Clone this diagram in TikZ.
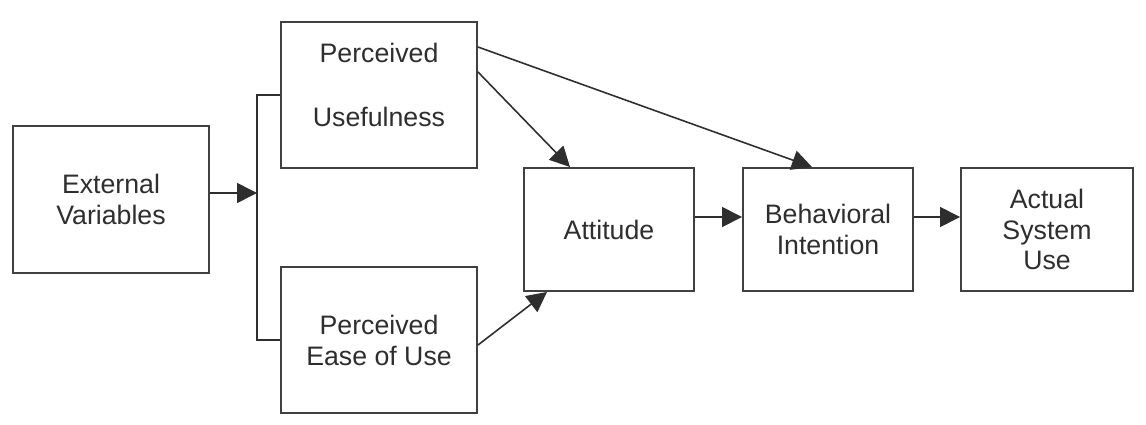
\documentclass[tikz,border=0pt]{standalone}
\usepackage{fontspec}
\setmainfont{Liberation Sans}
\usepackage{xcolor}
\definecolor{boxline}{HTML}{404040}
\definecolor{ink}{HTML}{2E2E2E}
\usepackage{tikz}
\usetikzlibrary{positioning,arrows.meta,calc}

\begin{document}
\begin{tikzpicture}[
    box/.style={draw=boxline, line width=1.1pt, fill=white, align=center,
      text=ink, font=\fontsize{15.2}{17.6}\selectfont, inner sep=0pt},
    link/.style={draw=ink, line width=0.9pt,
      -{Triangle[length=0.4cm, width=0.4cm]}},
    joint/.style={draw=ink, line width=1.1pt}]
  \useasboundingbox (0,0) rectangle (22.92, 8.48);
  % External variables
  \node[box, minimum width=3.92cm, minimum height=2.94cm] (ext) at (2.22, 4.49) {External\\Variables};
  % Perceived usefulness / ease of use
  \node[box, minimum width=3.92cm, minimum height=2.92cm] (pu) at (7.58, 6.58) {};
  \node[box, draw=none, fill=none] (putext) at ([yshift=0.2cm]pu.center) {Perceived\\[0.66cm]Usefulness};
  \node[box, minimum width=3.92cm, minimum height=2.92cm] (peou) at (7.58, 1.68) {Perceived\\Ease of Use};
  % Attitude, intention, use
  \node[box, minimum width=3.40cm, minimum height=2.46cm] (att) at (12.18, 3.89) {Attitude};
  \node[box, minimum width=3.40cm, minimum height=2.46cm] (bi) at (16.56, 3.89) {Behavioral\\Intention};
  \node[box, minimum width=3.44cm, minimum height=2.46cm] (asu) at (20.94, 3.89) {Actual\\System\\Use};
  % bracket
  \coordinate (split) at (5.14, 4.62);
  \draw[joint] (pu.west) -| (split) |- (peou.west);
  \draw[link] (ext.east |- split) -- (split);
  % paths between constructs
  \draw[link] ([yshift=0.46cm]pu.east) -- ([xshift=-0.78cm]att.north);
  \draw[link] ([yshift=0.96cm]pu.east) -- ([xshift=-0.32cm]bi.north);
  \draw[link] ([yshift=-0.1cm]peou.east) -- ([xshift=-1.24cm]att.south);
  \draw[link] ([yshift=0.25cm]att.east) -- ([yshift=0.25cm]bi.west);
  \draw[link] ([yshift=0.25cm]bi.east) -- ([yshift=0.25cm]asu.west);
\end{tikzpicture}
\end{document}
